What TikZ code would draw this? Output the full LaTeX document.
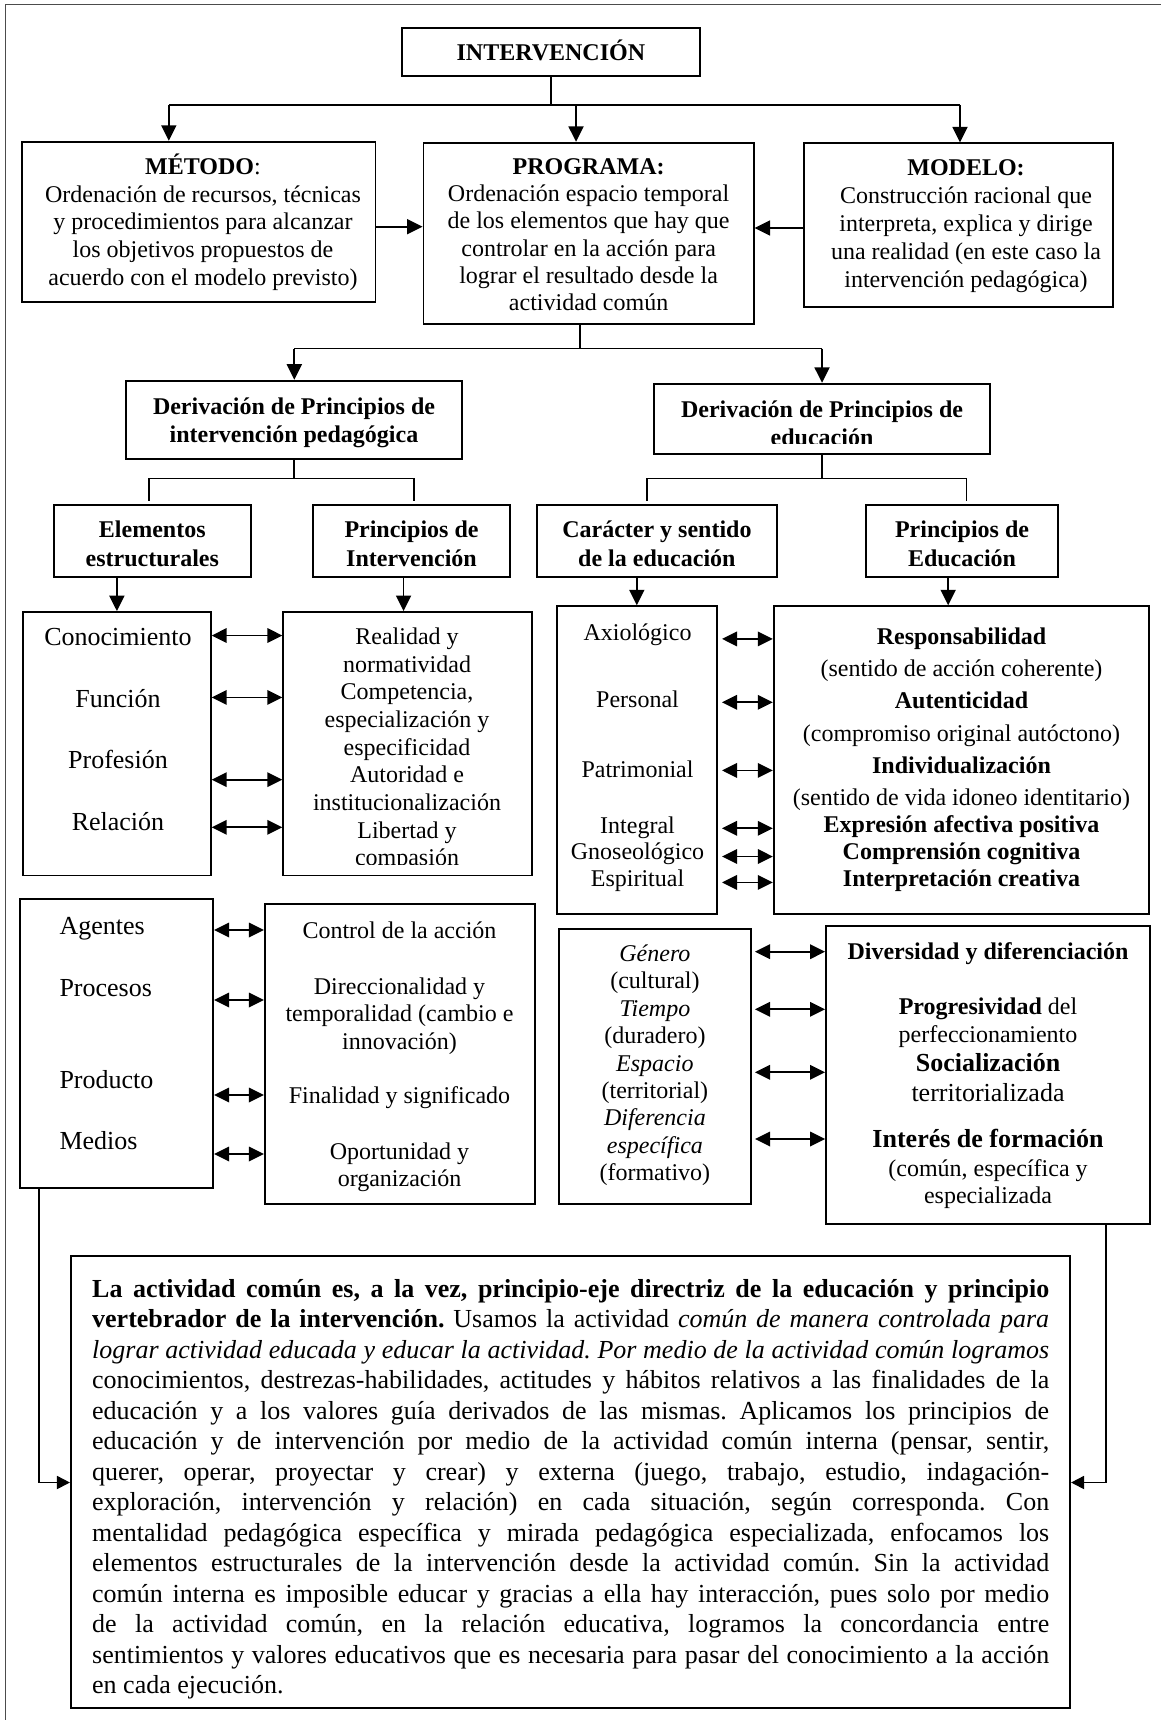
\documentclass[tikz,border=0pt]{standalone}
\usepackage{fontspec}
\setmainfont{Liberation Serif}
\usetikzlibrary{arrows.meta,fit}
\frenchspacing
\begin{document}
\begin{tikzpicture}[x=1pt,y=-1pt,
  bx/.style={draw, line width=1.8pt, inner sep=0pt, rectangle},
  % multi-line texts are placed by the baseline of their last line
  tx/.style={anchor=base, inner sep=0pt, align=center, font=\fontsize{24}{27.7}\selectfont},
  ln/.style={line width=1.8pt},
  arr/.style={ln, -{Triangle[length=15.5pt,width=15pt]}},
  sarr/.style={ln, -{Triangle[length=13pt,width=13pt]}},
  darr/.style={ln, {Triangle[length=15pt,width=14.5pt]}-{Triangle[length=15pt,width=14.5pt]}}]
\useasboundingbox (0,0) rectangle (1161,1720);

% frame edges
\draw[line width=1.4pt, black!70] (5.5,1720) -- (5.5,4.5) -- (1161,4.5);

% ---------- boxes ----------
\node[bx, fit={(402,27.7) (699.7,76)}] (int) {};
\node[bx, fit={(22.2,141.7) (375.4,301.7)}] (met) {};
\node[bx, fit={(423.5,142.7) (753.7,324)}] (prog) {};
\node[bx, fit={(804,143.3) (1112.8,306.7)}] (mod) {};
\node[bx, fit={(126.3,380.6) (462.3,458.8)}] (derL) {};
\node[bx, fit={(653.7,383.7) (990.3,454.3)}] (derR) {};
\node[bx, fit={(53.6,504.6) (251,576.9)}] (elem) {};
\node[bx, fit={(313,504.6) (510,576.9)}] (pint) {};
\node[bx, fit={(536.9,504.6) (776.8,576.9)}] (car) {};
\node[bx, fit={(866,504.6) (1058,576.9)}] (pedu) {};
\node[bx, fit={(23,612) (210.8,875.5)}] (conoc) {};
\node[bx, fit={(283.2,612) (531.9,875.5)}] (real) {};
\node[bx, fit={(556.6,606.2) (717,914.3)}] (axio) {};
\node[bx, fit={(773.7,606.2) (1148.7,914.3)}] (resp) {};
\node[bx, fit={(19.9,899.3) (213.2,1188.3)}] (agen) {};
\node[bx, fit={(264.8,904) (534.6,1204)}] (ctrl) {};
\node[bx, fit={(559,929.3) (751.1,1204)}] (gen) {};
\node[bx, fit={(826,926) (1149.9,1224.3)}] (div) {};
\node[bx, line width=2.1pt, fit={(71,1256) (1070,1708)}] (fin) {};

% ---------- texts ----------
\node[tx, font=\fontsize{24}{27.7}\selectfont\bfseries] (t_int) at (550.9,61) {INTERVENCIÓN};
\node[tx, font=\fontsize{24}{27.9}\selectfont] (t_met) at (203,285.8)
  {{\bfseries MÉTODO}:\\Ordenación de recursos, técnicas\\y procedimientos para alcanzar\\los objetivos propuestos de\\acuerdo con el modelo previsto)};
\node[tx, font=\fontsize{24}{27.3}\selectfont] (t_prog) at (588.6,310.7)
  {{\bfseries PROGRAMA:}\\Ordenación espacio temporal\\de los elementos que hay que\\controlar en la acción para\\lograr el resultado desde la\\actividad común};
\node[tx, font=\fontsize{24}{27.9}\selectfont] (t_mod) at (966,287.4)
  {{\bfseries MODELO:}\\Construcción racional que\\interpreta, explica y dirige\\una realidad (en este caso la\\intervención pedagógica)};

\node[tx, font=\fontsize{24}{27.6}\selectfont\bfseries] (t_derL) at (294,442.2)
  {Derivación de Principios de\\intervención pedagógica};
\begin{scope}
  \clip (653.7,383.7) rectangle (990.3,443);
  \node[tx, font=\fontsize{24}{27.6}\selectfont\bfseries] (t_derR) at (822,445)
    {Derivación de Principios de\\educación};
\end{scope}

\node[tx, font=\fontsize{24}{28.3}\selectfont\bfseries] (t_elem) at (152.3,566.2) {Elementos\\estructurales};
\node[tx, font=\fontsize{24}{28.3}\selectfont\bfseries] (t_pint) at (411.5,566.2) {Principios de\\Intervención};
\node[tx, font=\fontsize{24}{28.3}\selectfont\bfseries] (t_car) at (656.9,566.2) {Carácter y sentido\\de la educación};
\node[tx, font=\fontsize{24}{28.3}\selectfont\bfseries] (t_pedu) at (962,566.2) {Principios de\\Educación};

\node[tx, font=\fontsize{26}{61.4}\selectfont] (t_conoc) at (118,830.1)
  {Conocimiento\\Función\\Profesión\\Relación};
\begin{scope}
  \clip (283.2,612) rectangle (531.9,864);
  \node[tx] (t_real) at (407,865.9)
    {Realidad y\\normatividad\\Competencia,\\especialización y\\especificidad\\Autoridad e\\institucionalización\\Libertad y\\compasión};
\end{scope}

\node[tx, font=\fontsize{24}{26.7}\selectfont] (t_axio) at (637.5,886.4)
  {Axiológico\\[40.5pt]Personal\\[43.1pt]Patrimonial\\[29.1pt]Integral\\Gnoseológico\\Espiritual};
\node[tx, font=\fontsize{24}{27}\selectfont] (t_resp) at (961.5,886.8)
  {\textbf{Responsabilidad}\\[5.3pt](sentido de acción coherente)\\[5.3pt]\textbf{Autenticidad}\\[5.3pt](compromiso original autóctono)\\[5.3pt]\textbf{Individualización}\\[5.3pt](sentido de vida idoneo identitario)\\\textbf{Expresión afectiva positiva}\\\textbf{Comprensión cognitiva}\\\textbf{Interpretación creativa}};

\node[tx, anchor=base west, align=left, font=\fontsize{26}{61.3}\selectfont] (t_agen) at (59.3,1149.9)
  {Agentes\\Procesos\\[31.3pt]Producto\\Medios};
\node[tx, font=\fontsize{24}{27.5}\selectfont] (t_ctrl) at (399.5,1186.7)
  {Control de la acción\\[28.5pt]Direccionalidad y\\temporalidad (cambio e\\innovación)\\[26.8pt]Finalidad y significado\\[28.2pt]Oportunidad y\\organización};
\node[tx, font=\fontsize{24}{27.4}\selectfont] (t_gen) at (654.9,1180.7)
  {\textit{Género}\\(cultural)\\\textit{Tiempo}\\(duradero)\\\textit{Espacio}\\(territorial)\\\textit{Diferencia}\\\textit{específica}\\(formativo)};

\node[tx, font=\fontsize{24}{27.7}\selectfont\bfseries] (t_div1) at (988,959.2) {Diversidad y diferenciación};
\node[tx, font=\fontsize{24}{28.3}\selectfont] (t_div2) at (988,1042.5) {\textbf{Progresividad} del\\perfeccionamiento};
\node[tx, font=\fontsize{26}{30}\selectfont] (t_div3) at (988,1101.3) {\textbf{Socialización}\\territorializada};
\node[tx, font=\fontsize{26}{30}\selectfont\bfseries] (t_div4) at (988,1147.3) {Interés de formación};
\node[tx, font=\fontsize{24}{26.7}\selectfont] (t_div5) at (988,1203.5) {(común, específica y\\especializada};

\node[tx, anchor=base west, align=left, font=\fontsize{26}{30.5}\selectfont] (t_fin) at (92,1693.5)
  {\makebox[957pt][s]{\textbf{La actividad común es, a la vez, principio-eje directriz de la educación y principio}}\\
   \makebox[957pt][s]{\textbf{vertebrador de la intervención.} Usamos la actividad \textit{común de manera controlada para}}\\
   \makebox[957pt][s]{\textit{lograr actividad educada y educar la actividad. Por medio de la actividad común logramos}}\\
   \makebox[957pt][s]{conocimientos, destrezas-habilidades, actitudes y hábitos relativos a las finalidades de la}\\
   \makebox[957pt][s]{educación y a los valores guía derivados de las mismas. Aplicamos los principios de}\\
   \makebox[957pt][s]{educación y de intervención por medio de la actividad común interna (pensar, sentir,}\\
   \makebox[957pt][s]{querer, operar, proyectar y crear) y externa (juego, trabajo, estudio, indagación-}\\
   \makebox[957pt][s]{exploración, intervención y relación) en cada situación, según corresponda. Con}\\
   \makebox[957pt][s]{mentalidad pedagógica específica y mirada pedagógica especializada, enfocamos los}\\
   \makebox[957pt][s]{elementos estructurales de la intervención desde la actividad común. Sin la actividad}\\
   \makebox[957pt][s]{común interna es imposible educar y gracias a ella hay interacción, pues solo por medio}\\
   \makebox[957pt][s]{de la actividad común, en la relación educativa, logramos la concordancia entre}\\
   \makebox[957pt][s]{sentimientos y valores educativos que es necesaria para pasar del conocimiento a la acción}\\
   en cada ejecución.};

% ---------- connectors ----------
% intervención -> método, programa, modelo
\coordinate (busA) at (168.8,105);
\coordinate (busM) at (576,105);
\coordinate (busB) at (960,105);
\draw[ln] (int.south) -- (int.south |- busA);
\draw[ln] (busA) -- (busB);
\draw[arr] (busA) -- (busA |- met.north);
\draw[arr] (busM) -- (busM |- prog.north);
\draw[arr] (busB) -- (busB |- mod.north);
\coordinate (m1) at ([yshift=-5pt]met.east);
\coordinate (m2) at ([yshift=-3pt]mod.west);
\draw[arr] (m1) -- (m1 -| prog.west);
\draw[arr] (m2) -- (m2 -| prog.east);

% programa -> derivaciones
\coordinate (busC) at (580,348.5);
\coordinate (busCL) at (294.3,348.5);
\coordinate (busCR) at (822,348.5);
\draw[ln] (busC |- prog.south) -- (busC);
\draw[ln] (busCL) -- (busCR);
\draw[arr] (busCL) -- (busCL |- derL.north);
\draw[arr] (busCR) -- (busCR |- derR.north);

% derivaciones -> sub-boxes
\coordinate (dL) at (149.2,478.4);
\coordinate (dR) at (414,478.4);
\coordinate (eL) at (646.9,478.4);
\coordinate (eR) at (966.5,478.4);
\draw[ln] (derL.south) -- (derL.south |- dL);
\draw[ln] (dL) -- (dR);
\draw[ln, shorten >=3pt] (dL) -- (dL |- elem.north);
\draw[ln, shorten >=3pt] (dR) -- (dR |- pint.north);
\draw[ln] (derR.south) -- (derR.south |- eL);
\draw[ln] (eL) -- (eR);
\draw[ln, shorten >=3pt] (eL) -- (eL |- car.north);
\draw[ln, shorten >=3pt] (eR) -- (eR |- pedu.north);

% sub-boxes -> lists
\draw[arr] (conoc.north |- elem.south) -- (conoc.north);
\coordinate (rn) at ([xshift=-4pt]real.north);
\draw[arr] (rn |- pint.south) -- (rn);
\draw[arr] (axio.north |- car.south) -- (axio.north);
\coordinate (pn) at ([xshift=-13pt]resp.north);
\draw[arr] (pn |- pedu.south) -- (pn);

% two-way links
\foreach \yy [count=\i] in {635.5,697.4,779.7,827.3}{
  \coordinate (ka\i) at (0,\yy);
  \draw[darr] (conoc.east |- ka\i) -- (real.west |- ka\i);
}
\foreach \yy [count=\i] in {638.9,702.3,770.4,828.3,856.5,882.4}{
  \coordinate (kb\i) at (722,\yy);
  \draw[darr] (kb\i) -- (resp.west |- kb\i);
}
\foreach \yy [count=\i] in {930,1000,1095,1154}{
  \coordinate (kc\i) at (0,\yy);
  \draw[darr] (agen.east |- kc\i) -- (ctrl.west |- kc\i);
}
\foreach \yy [count=\i] in {951.7,1009.3,1072.3,1139}{
  \coordinate (kd\i) at (755,\yy);
  \draw[darr] (kd\i) -- (div.west |- kd\i);
}

% lists -> closing text
\coordinate (lc) at (39.3,1482.5);
\coordinate (rc) at (1105.7,1482.5);
\draw[sarr] (lc |- agen.south) -- (lc) -- (lc -| fin.west);
\draw[sarr] (rc |- div.south) -- (rc) -- (rc -| fin.east);
\end{tikzpicture}
\end{document}
